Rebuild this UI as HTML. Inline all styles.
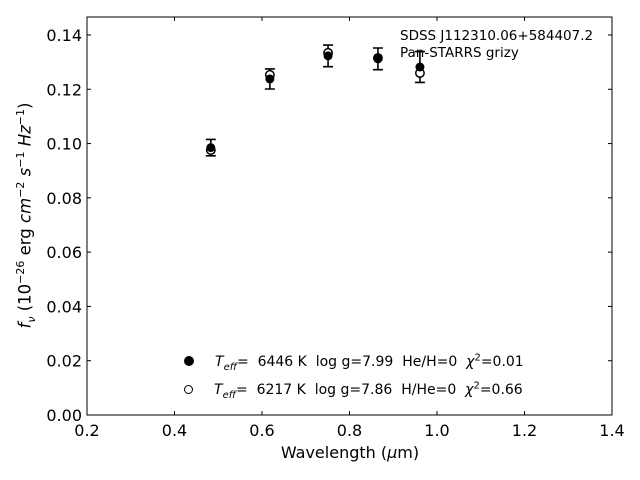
<!DOCTYPE html>
<html><head><meta charset="utf-8"><style>
body{margin:0;background:#fff;}
svg{display:block;font-family:"DejaVu Sans","Liberation Sans",sans-serif;}
sub,sup{line-height:0;}
</style></head><body>
<svg id="c" width="640" height="480" xmlns="http://www.w3.org/2000/svg">
<rect width="640" height="480" fill="#fff"/>
<g id="plot"></g>
</svg>
<script>
const wavelengths=[0.483,0.618,0.751,0.865,0.961];
const fluxObs=[0.0985,0.1238,0.1323,0.1312,0.1282];
const fluxErr=[0.0030,0.0037,0.0040,0.0040,0.0057];
const fluxModel=[0.0976,0.1253,0.1334,0.1315,0.1260];
const xTicks=[0.2,0.4,0.6,0.8,1.0,1.2,1.4];
const yTicks=[0.00,0.02,0.04,0.06,0.08,0.10,0.12,0.14];
const L=87,R=612,T=17,B=415;
const X=v=>L+(v-0.2)/1.2*(R-L);
const Y=v=>B-v/0.02*54.29;
const NS="http://www.w3.org/2000/svg";
const g=document.getElementById('plot');
function mk(tag,attrs,txt){const e=document.createElementNS(NS,tag);for(const k in attrs)e.setAttribute(k,attrs[k]);if(txt!==undefined)e.textContent=txt;g.appendChild(e);return e;}
let e;
xTicks.forEach(t=>{const x=X(t);
e=mk('line',{x1:x,x2:x,y1:B,y2:B-4,stroke:'#000'});


e=mk('line',{x1:x,x2:x,y1:T,y2:T+4,stroke:'#000'});


e=mk('text',{x:x,y:B+21,'text-anchor':'middle','font-size':16},t.toFixed(1));


});
yTicks.forEach(t=>{const y=Y(t);
e=mk('line',{x1:L,x2:L+4,y1:y,y2:y,stroke:'#000'});


e=mk('line',{x1:R,x2:R-4,y1:y,y2:y,stroke:'#000'});


e=mk('text',{x:L-5,y:y+6,'text-anchor':'end','font-size':16},t.toFixed(2));


});
wavelengths.forEach((w,i)=>{const x=X(w);
const y1=Y(fluxObs[i]+fluxErr[i]),y2=Y(fluxObs[i]-fluxErr[i]);
e=mk('path',{d:`M${x},${y1}V${y2}M${x-5},${y1}H${x+5}M${x-5},${y2}H${x+5}`,stroke:'#000','stroke-width':1.6,fill:'none'});


e=mk('circle',{cx:x,cy:Y(fluxModel[i]),r:4.2,fill:'#fff',stroke:'#000','stroke-width':1.5});


e=mk('circle',{cx:x,cy:Y(fluxObs[i]),r:4.5,fill:'#000'});


});
e=mk('rect',{x:L,y:T,width:R-L,height:B-T,fill:'none',stroke:'#000','stroke-width':1});


</script>
<div style="position:absolute;left:0;top:0;width:640px;height:480px;pointer-events:none;font-family:'DejaVu Sans','Liberation Sans',sans-serif;">
<div style="position:absolute;left:400px;top:28px;font-size:13.5px;line-height:17px;white-space:nowrap;">SDSS J112310.06+584407.2<br>Pan-STARRS grizy</div>
<div style="position:absolute;left:250px;top:443px;width:200px;text-align:center;font-size:16px;">Wavelength (<i>μ</i>m)</div>
<div style="position:absolute;left:-95px;top:206px;width:240px;text-align:center;font-size:16.5px;transform:rotate(-90deg);white-space:nowrap;"><i>f<sub style="font-size:11px">ν</sub></i> (10<sup style="font-size:11px">−26</sup> erg <i>cm</i><sup style="font-size:11px">−2</sup> <i>s</i><sup style="font-size:11px">−1</sup> <i>Hz</i><sup style="font-size:11px">−1</sup>)</div>
<div style="position:absolute;left:184px;top:353px;height:18px;line-height:18px;font-size:14px;white-space:nowrap;"><span style="display:inline-block;width:10px;height:10px;border-radius:50%;background:#000;margin-right:21px;vertical-align:0px"></span><i>T<sub style="font-size:10px">eff</sub></i>=&nbsp; 6446 K&nbsp; log g=7.99&nbsp; He/H=0&nbsp; <i>χ</i><sup style="font-size:10px">2</sup>=0.01</div>
<div style="position:absolute;left:184px;top:381px;height:18px;line-height:18px;font-size:14px;white-space:nowrap;"><span style="display:inline-block;width:7px;height:7px;border-radius:50%;border:1.5px solid #000;margin-right:21px;vertical-align:0px"></span><i>T<sub style="font-size:10px">eff</sub></i>=&nbsp; 6217 K&nbsp; log g=7.86&nbsp; H/He=0&nbsp; <i>χ</i><sup style="font-size:10px">2</sup>=0.66</div>
</div>
</body></html>
